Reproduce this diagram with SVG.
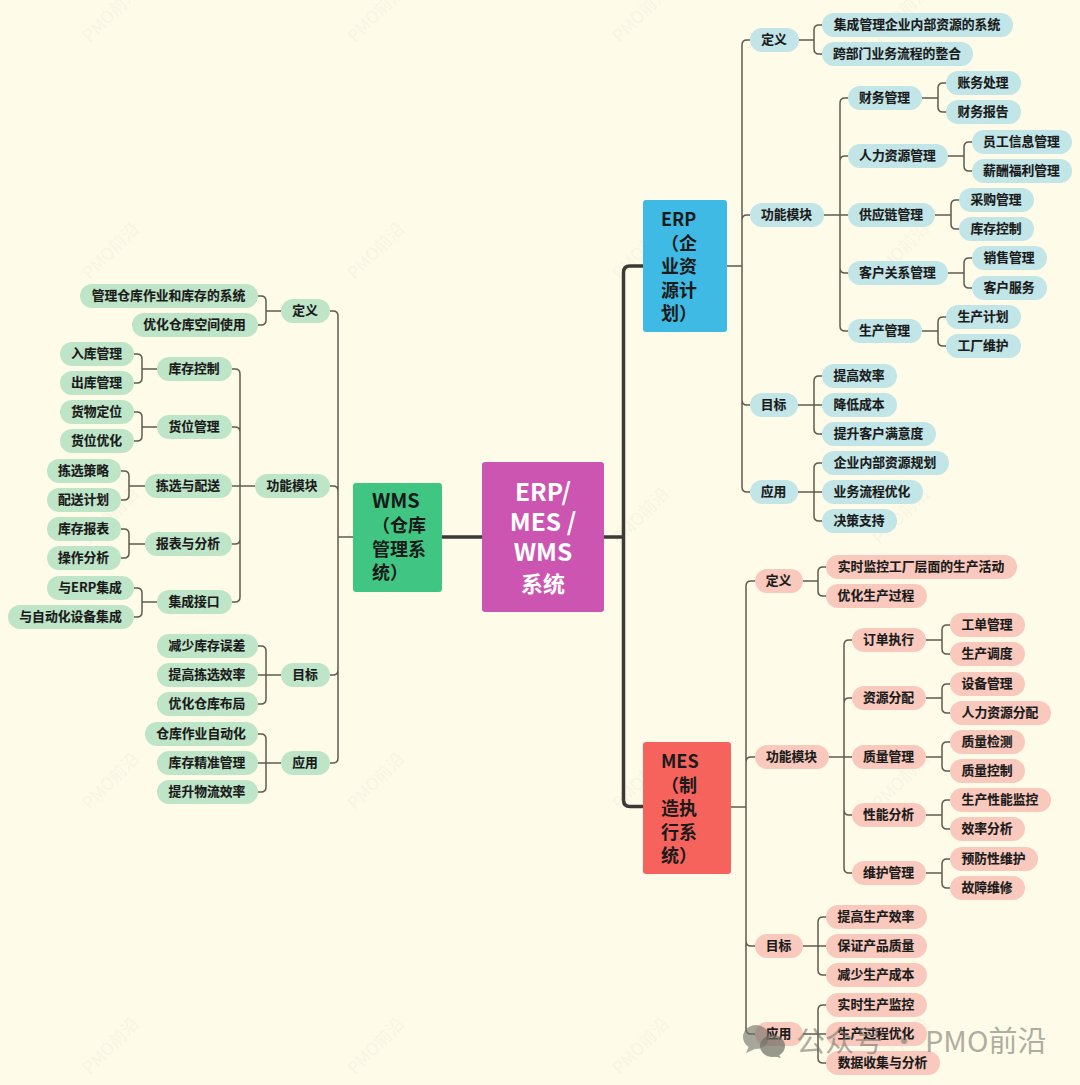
<svg xmlns="http://www.w3.org/2000/svg" width="1080" height="1085" viewBox="0 0 1080 1085">
<style>
text{font-family:"Noto Sans CJK SC","Noto Sans",sans-serif;font-weight:700;fill:#1a1a1a}
.t{font-size:12.8px;text-anchor:middle;transform:translate(-.5px,-1px);stroke:#1a1a1a;stroke-width:.15}
.b{fill:#C2E5E8}.g{fill:#BFE5C8}.r{fill:#F9C9BD}
.box{font-size:18px}
.c{font-size:22px;fill:#fff;text-anchor:middle}
.cl{font-size:24.5px}
.wl{font-size:20px}
.wm{font-size:17px;font-weight:400;fill:#8a8a80;opacity:.05;text-anchor:middle}
.cn{fill:none;stroke:#5F5B4E;stroke-width:1.5}
.mn{fill:none;stroke:#3B3A34;stroke-width:3.5}
.sig{font-size:29px;font-weight:400;fill:#6f6f66;opacity:.55}
</style>
<rect width="1080" height="1085" fill="#FEFBE9"/>
<g id="watermarks">
<text class="wm" transform="translate(115 18) rotate(-45)">PMO前沿</text><text class="wm" transform="translate(380 18) rotate(-45)">PMO前沿</text><text class="wm" transform="translate(645 18) rotate(-45)">PMO前沿</text><text class="wm" transform="translate(905 18) rotate(-45)">PMO前沿</text>
<text class="wm" transform="translate(115 255) rotate(-45)">PMO前沿</text><text class="wm" transform="translate(380 255) rotate(-45)">PMO前沿</text><text class="wm" transform="translate(645 255) rotate(-45)">PMO前沿</text><text class="wm" transform="translate(905 255) rotate(-45)">PMO前沿</text>
<text class="wm" transform="translate(115 520) rotate(-45)">PMO前沿</text><text class="wm" transform="translate(380 520) rotate(-45)">PMO前沿</text><text class="wm" transform="translate(645 520) rotate(-45)">PMO前沿</text><text class="wm" transform="translate(905 520) rotate(-45)">PMO前沿</text>
<text class="wm" transform="translate(115 785) rotate(-45)">PMO前沿</text><text class="wm" transform="translate(380 785) rotate(-45)">PMO前沿</text><text class="wm" transform="translate(645 785) rotate(-45)">PMO前沿</text><text class="wm" transform="translate(905 785) rotate(-45)">PMO前沿</text>
<text class="wm" transform="translate(115 1050) rotate(-45)">PMO前沿</text><text class="wm" transform="translate(380 1050) rotate(-45)">PMO前沿</text><text class="wm" transform="translate(645 1050) rotate(-45)">PMO前沿</text><text class="wm" transform="translate(905 1050) rotate(-45)">PMO前沿</text>
</g>
<g id="connectors">
<path class="mn" d="M442 537H482M604 537H623.5M643 266H630Q623.5 266 623.5 272.5V800Q623.5 806.5 630 806.5H643"/>
<path class="cn" d="M727 266H742M750 40H747Q742 40 742 45V487Q742 492 747 492H750M742 220Q742 215 747 215H750M742 400Q742 405 747 405H750"/>
<path class="cn" d="M799 40H814M822 25H819Q814 25 814 30V49Q814 54 819 54H822"/>
<path class="cn" d="M824 215H848M848 98H845Q840 98 840 103V326Q840 331 845 331H848M840 161Q840 156 845 156H848M840 268Q840 273 845 273H848"/>
<path class="cn" d="M922 98H938M946 83H943Q938 83 938 88V107Q938 112 943 112H946"/>
<path class="cn" d="M948 156H964M972 142H969Q964 142 964 147V166Q964 171 969 171H972"/>
<path class="cn" d="M935 215H951M959 200H956Q951 200 951 205V224Q951 229 956 229H959"/>
<path class="cn" d="M948 273H964M972 258H969Q964 258 964 263V283Q964 288 969 288H972"/>
<path class="cn" d="M922 331H938M946 317H943Q938 317 938 322V341Q938 346 943 346H946"/>
<path class="cn" d="M798 405H822M822 376H819Q814 376 814 381V429Q814 434 819 434H822"/>
<path class="cn" d="M798 492H822M822 463H819Q814 463 814 468V516Q814 521 819 521H822"/>
<path class="cn" d="M731 807H746M755 581H751Q746 581 746 586V1029Q746 1034 751 1034H755M746 762Q746 757 751 757H755M746 941Q746 946 751 946H755"/>
<path class="cn" d="M803 581H818M826 567H823Q818 567 818 572V591Q818 596 823 596H826"/>
<path class="cn" d="M829 757H852M852 640H849Q844 640 844 645V868Q844 873 849 873H852M844 703Q844 698 849 698H852M844 810Q844 815 849 815H852"/>
<path class="cn" d="M926 640H942M950 625H947Q942 625 942 630V649Q942 654 947 654H950"/>
<path class="cn" d="M926 698H942M950 684H947Q942 684 942 689V708Q942 713 947 713H950"/>
<path class="cn" d="M926 757H942M950 742H947Q942 742 942 747V766Q942 771 947 771H950"/>
<path class="cn" d="M926 815H942M950 800H947Q942 800 942 805V824Q942 829 947 829H950"/>
<path class="cn" d="M926 873H942M950 859H947Q942 859 942 864V883Q942 888 947 888H950"/>
<path class="cn" d="M803 946H826M826 917H823Q818 917 818 922V970Q818 975 823 975H826"/>
<path class="cn" d="M803 1034H826M826 1005H823Q818 1005 818 1010V1058Q818 1063 823 1063H826"/>
<path class="cn" d="M353 537H338M330 311H333Q338 311 338 316V758Q338 763 333 763H330M338 491Q338 486 333 486H330M338 670Q338 675 333 675H330"/>
<path class="cn" d="M281 311H266M258 296H261Q266 296 266 301V320Q266 325 261 325H258"/>
<path class="cn" d="M255 486H232M232 369H235Q240 369 240 374V597Q240 602 235 602H232M240 432Q240 427 235 427H232M240 539Q240 544 235 544H232"/>
<path class="cn" d="M157 369H142M134 354H137Q142 354 142 359V378Q142 383 137 383H134"/>
<path class="cn" d="M157 427H142M134 412H137Q142 412 142 417V436Q142 441 137 441H134"/>
<path class="cn" d="M145 486H129M121 471H124Q129 471 129 476V495Q129 500 124 500H121"/>
<path class="cn" d="M145 544H129M121 529H124Q129 529 129 534V553Q129 558 124 558H121"/>
<path class="cn" d="M157 602H142M134 588H137Q142 588 142 593V612Q142 617 137 617H134"/>
<path class="cn" d="M281 675H258M258 646H261Q266 646 266 651V699Q266 704 261 704H258"/>
<path class="cn" d="M281 763H258M258 734H261Q266 734 266 739V787Q266 792 261 792H258"/>
</g>
<g id="center"><rect x="482" y="462" width="122" height="150" rx="3" fill="#CC55B1"/><text class="c cl" x="543" y="501">ERP/</text><text class="c cl" x="543" y="531">MES /</text><text class="c cl" x="543" y="561">WMS</text><text class="c" x="543" y="592">系统</text></g>
<g id="erp"><rect x="643" y="200" width="84" height="132" rx="3" fill="#3FBAE4"/><text class="box" x="661" y="226">ERP</text><text class="box" x="661" y="250">（企</text><text class="box" x="661" y="273">业资</text><text class="box" x="661" y="297">源计</text><text class="box" x="661" y="320">划）</text></g>
<g id="mes"><rect x="643" y="742" width="88" height="132" rx="3" fill="#F5635C"/><text class="box" x="661" y="768">MES</text><text class="box" x="661" y="792">（制</text><text class="box" x="661" y="815">造执</text><text class="box" x="661" y="839">行系</text><text class="box" x="661" y="862">统）</text></g>
<g id="wms"><rect x="353" y="483" width="89" height="109" rx="3" fill="#40C682"/><text class="box wl" x="372" y="508">WMS</text><text class="box" x="372" y="532">（仓库</text><text class="box" x="372" y="556">管理系</text><text class="box" x="372" y="579">统）</text></g>

<g id="e1"><rect class="b" x="750" y="28" width="49" height="24" rx="12"/><text class="t" x="774.5" y="44.5">定义</text></g>
<g id="e11"><rect class="b" x="822" y="13" width="191" height="24" rx="12"/><text class="t" x="917.5" y="29.5">集成管理企业内部资源的系统</text></g>
<g id="e12"><rect class="b" x="822" y="42" width="151" height="24" rx="12"/><text class="t" x="897.5" y="58.5">跨部门业务流程的整合</text></g>
<g id="e2"><rect class="b" x="750" y="203" width="74" height="24" rx="12"/><text class="t" x="787" y="219.5">功能模块</text></g>
<g id="e21"><rect class="b" x="848" y="86" width="74" height="24" rx="12"/><text class="t" x="885" y="102.5">财务管理</text></g>
<g id="e211"><rect class="b" x="946" y="71" width="75" height="24" rx="12"/><text class="t" x="983.5" y="87.5">账务处理</text></g>
<g id="e212"><rect class="b" x="946" y="100" width="75" height="24" rx="12"/><text class="t" x="983.5" y="116.5">财务报告</text></g>
<g id="e22"><rect class="b" x="848" y="144" width="100" height="24" rx="12"/><text class="t" x="898" y="160.5">人力资源管理</text></g>
<g id="e221"><rect class="b" x="972" y="130" width="100" height="24" rx="12"/><text class="t" x="1022" y="146.5">员工信息管理</text></g>
<g id="e222"><rect class="b" x="972" y="159" width="100" height="24" rx="12"/><text class="t" x="1022" y="175.5">薪酬福利管理</text></g>
<g id="e23"><rect class="b" x="848" y="203" width="87" height="24" rx="12"/><text class="t" x="891.5" y="219.5">供应链管理</text></g>
<g id="e231"><rect class="b" x="959" y="188" width="75" height="24" rx="12"/><text class="t" x="996.5" y="204.5">采购管理</text></g>
<g id="e232"><rect class="b" x="959" y="217" width="75" height="24" rx="12"/><text class="t" x="996.5" y="233.5">库存控制</text></g>
<g id="e24"><rect class="b" x="848" y="261" width="100" height="24" rx="12"/><text class="t" x="898" y="277.5">客户关系管理</text></g>
<g id="e241"><rect class="b" x="972" y="246" width="75" height="24" rx="12"/><text class="t" x="1009.5" y="262.5">销售管理</text></g>
<g id="e242"><rect class="b" x="972" y="276" width="75" height="24" rx="12"/><text class="t" x="1009.5" y="292.5">客户服务</text></g>
<g id="e25"><rect class="b" x="848" y="319" width="74" height="24" rx="12"/><text class="t" x="885" y="335.5">生产管理</text></g>
<g id="e251"><rect class="b" x="946" y="305" width="75" height="24" rx="12"/><text class="t" x="983.5" y="321.5">生产计划</text></g>
<g id="e252"><rect class="b" x="946" y="334" width="75" height="24" rx="12"/><text class="t" x="983.5" y="350.5">工厂维护</text></g>
<g id="e3"><rect class="b" x="750" y="393" width="48" height="24" rx="12"/><text class="t" x="774" y="409.5">目标</text></g>
<g id="e31"><rect class="b" x="822" y="364" width="75" height="24" rx="12"/><text class="t" x="859.5" y="380.5">提高效率</text></g>
<g id="e32"><rect class="b" x="822" y="393" width="75" height="24" rx="12"/><text class="t" x="859.5" y="409.5">降低成本</text></g>
<g id="e33"><rect class="b" x="822" y="422" width="114" height="24" rx="12"/><text class="t" x="879" y="438.5">提升客户满意度</text></g>
<g id="e4"><rect class="b" x="750" y="480" width="48" height="24" rx="12"/><text class="t" x="774" y="496.5">应用</text></g>
<g id="e41"><rect class="b" x="822" y="451" width="127" height="24" rx="12"/><text class="t" x="885.5" y="467.5">企业内部资源规划</text></g>
<g id="e42"><rect class="b" x="822" y="480" width="101" height="24" rx="12"/><text class="t" x="872.5" y="496.5">业务流程优化</text></g>
<g id="e43"><rect class="b" x="822" y="509" width="75" height="24" rx="12"/><text class="t" x="859.5" y="525.5">决策支持</text></g>

<g id="m1"><rect class="r" x="755" y="569" width="48" height="24" rx="12"/><text class="t" x="779" y="585.5">定义</text></g>
<g id="m11"><rect class="r" x="826" y="555" width="191" height="24" rx="12"/><text class="t" x="921.5" y="571.5">实时监控工厂层面的生产活动</text></g>
<g id="m12"><rect class="r" x="826" y="584" width="101" height="24" rx="12"/><text class="t" x="876.5" y="600.5">优化生产过程</text></g>
<g id="m2"><rect class="r" x="755" y="745" width="74" height="24" rx="12"/><text class="t" x="792" y="761.5">功能模块</text></g>
<g id="m21"><rect class="r" x="852" y="628" width="74" height="24" rx="12"/><text class="t" x="889" y="644.5">订单执行</text></g>
<g id="m211"><rect class="r" x="950" y="613" width="75" height="24" rx="12"/><text class="t" x="987.5" y="629.5">工单管理</text></g>
<g id="m212"><rect class="r" x="950" y="642" width="75" height="24" rx="12"/><text class="t" x="987.5" y="658.5">生产调度</text></g>
<g id="m22"><rect class="r" x="852" y="686" width="74" height="24" rx="12"/><text class="t" x="889" y="702.5">资源分配</text></g>
<g id="m221"><rect class="r" x="950" y="672" width="75" height="24" rx="12"/><text class="t" x="987.5" y="688.5">设备管理</text></g>
<g id="m222"><rect class="r" x="950" y="701" width="101" height="24" rx="12"/><text class="t" x="1000.5" y="717.5">人力资源分配</text></g>
<g id="m23"><rect class="r" x="852" y="745" width="74" height="24" rx="12"/><text class="t" x="889" y="761.5">质量管理</text></g>
<g id="m231"><rect class="r" x="950" y="730" width="75" height="24" rx="12"/><text class="t" x="987.5" y="746.5">质量检测</text></g>
<g id="m232"><rect class="r" x="950" y="759" width="75" height="24" rx="12"/><text class="t" x="987.5" y="775.5">质量控制</text></g>
<g id="m24"><rect class="r" x="852" y="803" width="74" height="24" rx="12"/><text class="t" x="889" y="819.5">性能分析</text></g>
<g id="m241"><rect class="r" x="950" y="788" width="101" height="24" rx="12"/><text class="t" x="1000.5" y="804.5">生产性能监控</text></g>
<g id="m242"><rect class="r" x="950" y="817" width="75" height="24" rx="12"/><text class="t" x="987.5" y="833.5">效率分析</text></g>
<g id="m25"><rect class="r" x="852" y="861" width="74" height="24" rx="12"/><text class="t" x="889" y="877.5">维护管理</text></g>
<g id="m251"><rect class="r" x="950" y="847" width="88" height="24" rx="12"/><text class="t" x="994" y="863.5">预防性维护</text></g>
<g id="m252"><rect class="r" x="950" y="876" width="75" height="24" rx="12"/><text class="t" x="987.5" y="892.5">故障维修</text></g>
<g id="m3"><rect class="r" x="755" y="934" width="48" height="24" rx="12"/><text class="t" x="779" y="950.5">目标</text></g>
<g id="m31"><rect class="r" x="826" y="905" width="101" height="24" rx="12"/><text class="t" x="876.5" y="921.5">提高生产效率</text></g>
<g id="m32"><rect class="r" x="826" y="934" width="101" height="24" rx="12"/><text class="t" x="876.5" y="950.5">保证产品质量</text></g>
<g id="m33"><rect class="r" x="826" y="963" width="101" height="24" rx="12"/><text class="t" x="876.5" y="979.5">减少生产成本</text></g>
<g id="m4"><rect class="r" x="755" y="1022" width="48" height="24" rx="12"/><text class="t" x="779" y="1038.5">应用</text></g>
<g id="m41"><rect class="r" x="826" y="993" width="101" height="24" rx="12"/><text class="t" x="876.5" y="1009.5">实时生产监控</text></g>
<g id="m42"><rect class="r" x="826" y="1022" width="101" height="24" rx="12"/><text class="t" x="876.5" y="1038.5">生产过程优化</text></g>
<g id="m43"><rect class="r" x="826" y="1051" width="114" height="24" rx="12"/><text class="t" x="883" y="1067.5">数据收集与分析</text></g>

<g id="w1"><rect class="g" x="281" y="299" width="49" height="24" rx="12"/><text class="t" x="305.5" y="315.5">定义</text></g>
<g id="w11"><rect class="g" x="80" y="284" width="178" height="24" rx="12"/><text class="t" x="169" y="300.5">管理仓库作业和库存的系统</text></g>
<g id="w12"><rect class="g" x="132" y="313" width="126" height="24" rx="12"/><text class="t" x="195" y="329.5">优化仓库空间使用</text></g>
<g id="w2"><rect class="g" x="255" y="474" width="75" height="24" rx="12"/><text class="t" x="292.5" y="490.5">功能模块</text></g>
<g id="w21"><rect class="g" x="157" y="357" width="75" height="24" rx="12"/><text class="t" x="194.5" y="373.5">库存控制</text></g>
<g id="w211"><rect class="g" x="60" y="342" width="74" height="24" rx="12"/><text class="t" x="97" y="358.5">入库管理</text></g>
<g id="w212"><rect class="g" x="60" y="371" width="74" height="24" rx="12"/><text class="t" x="97" y="387.5">出库管理</text></g>
<g id="w22"><rect class="g" x="157" y="415" width="75" height="24" rx="12"/><text class="t" x="194.5" y="431.5">货位管理</text></g>
<g id="w221"><rect class="g" x="60" y="400" width="74" height="24" rx="12"/><text class="t" x="97" y="416.5">货物定位</text></g>
<g id="w222"><rect class="g" x="60" y="429" width="74" height="24" rx="12"/><text class="t" x="97" y="445.5">货位优化</text></g>
<g id="w23"><rect class="g" x="145" y="474" width="87" height="24" rx="12"/><text class="t" x="188.5" y="490.5">拣选与配送</text></g>
<g id="w231"><rect class="g" x="47" y="459" width="74" height="24" rx="12"/><text class="t" x="84" y="475.5">拣选策略</text></g>
<g id="w232"><rect class="g" x="47" y="488" width="74" height="24" rx="12"/><text class="t" x="84" y="504.5">配送计划</text></g>
<g id="w24"><rect class="g" x="145" y="532" width="87" height="24" rx="12"/><text class="t" x="188.5" y="548.5">报表与分析</text></g>
<g id="w241"><rect class="g" x="47" y="517" width="74" height="24" rx="12"/><text class="t" x="84" y="533.5">库存报表</text></g>
<g id="w242"><rect class="g" x="47" y="546" width="74" height="24" rx="12"/><text class="t" x="84" y="562.5">操作分析</text></g>
<g id="w25"><rect class="g" x="157" y="590" width="75" height="24" rx="12"/><text class="t" x="194.5" y="606.5">集成接口</text></g>
<g id="w251"><rect class="g" x="47" y="576" width="87" height="24" rx="12"/><text class="t" x="90.5" y="592.5">与ERP集成</text></g>
<g id="w252"><rect class="g" x="8" y="605" width="126" height="24" rx="12"/><text class="t" x="71" y="621.5">与自动化设备集成</text></g>
<g id="w3"><rect class="g" x="281" y="663" width="49" height="24" rx="12"/><text class="t" x="305.5" y="679.5">目标</text></g>
<g id="w31"><rect class="g" x="157" y="634" width="101" height="24" rx="12"/><text class="t" x="207.5" y="650.5">减少库存误差</text></g>
<g id="w32"><rect class="g" x="157" y="663" width="101" height="24" rx="12"/><text class="t" x="207.5" y="679.5">提高拣选效率</text></g>
<g id="w33"><rect class="g" x="157" y="692" width="101" height="24" rx="12"/><text class="t" x="207.5" y="708.5">优化仓库布局</text></g>
<g id="w4"><rect class="g" x="281" y="751" width="49" height="24" rx="12"/><text class="t" x="305.5" y="767.5">应用</text></g>
<g id="w41"><rect class="g" x="145" y="722" width="113" height="24" rx="12"/><text class="t" x="201.5" y="738.5">仓库作业自动化</text></g>
<g id="w42"><rect class="g" x="157" y="751" width="101" height="24" rx="12"/><text class="t" x="207.5" y="767.5">库存精准管理</text></g>
<g id="w43"><rect class="g" x="157" y="780" width="101" height="24" rx="12"/><text class="t" x="207.5" y="796.5">提升物流效率</text></g>

<g id="signature">
<g fill="#6f6f66" opacity=".6"><ellipse cx="756" cy="1037" rx="13" ry="12"/><path d="M749 1046l-3 7 9-4z"/></g>
<g fill="#6f6f66" opacity=".7"><ellipse cx="772.5" cy="1046" rx="12.5" ry="11"/><path d="M778 1054l3 4-8-2z"/></g>
<text class="sig" x="796" y="1052">公众号 · PMO前沿</text>
</g>
</svg>
